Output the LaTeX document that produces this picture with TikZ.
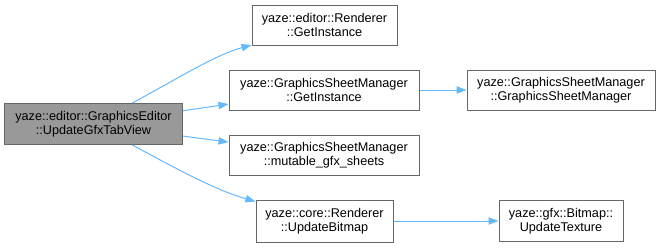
\documentclass[tikz,border=0pt]{standalone}
\usepackage{fontspec}
\setmainfont{Liberation Sans}
\usetikzlibrary{arrows.meta}
\definecolor{edgeblue}{HTML}{63B8FF}
\definecolor{boxline}{HTML}{666666}
\definecolor{boxfill}{HTML}{999999}
\begin{document}
\begin{tikzpicture}[x=0.75pt,y=-0.75pt,
  fn/.style={draw=boxline,line width=0.75pt,fill=white,inner sep=0pt,
    align=center,font=\fontsize{9.5pt}{10.6pt}\selectfont},
  cur/.style={fn,fill=boxfill},
  edge/.style={draw=edgeblue,line width=0.75pt,
    -{Triangle[length=7.5pt,width=5.5pt]}}]
\useasboundingbox (0,0) rectangle (662,247);
\node[cur,minimum width=133.5pt,minimum height=30.75pt] (main) at (93.5,124)
  {yaze::editor::GraphicsEditor\\::UpdateGfxTabView};
\node[fn,minimum width=108.75pt,minimum height=30pt] (rgi) at (324.5,25)
  {yaze::editor::Renderer\\::GetInstance};
\node[fn,minimum width=142.5pt,minimum height=30pt] (gsmgi) at (324,90)
  {yaze::GraphicsSheetManager\\::GetInstance};
\node[fn,minimum width=142.5pt,minimum height=30pt] (mut) at (324,155)
  {yaze::GraphicsSheetManager\\::mutable\_gfx\_sheets};
\node[fn,minimum width=102.75pt,minimum height=31.5pt] (ub) at (324.5,221)
  {yaze::core::Renderer\\::UpdateBitmap};
\node[fn,minimum width=141pt,minimum height=30pt] (gsm) at (561,90)
  {yaze::GraphicsSheetManager\\::GraphicsSheetManager};
\node[fn,minimum width=93pt,minimum height=30.75pt] (ut) at (561,221)
  {yaze::gfx::Bitmap::\\UpdateTexture};
\draw[edge] (main) .. controls (175,80) and (215,55) .. (rgi);
\draw[edge] (main) -- (gsmgi);
\draw[edge] (main) -- (mut);
\draw[edge] (main) .. controls (175,168) and (215,190) .. (ub);
\draw[edge] (gsmgi) -- (gsm);
\draw[edge] (ub) -- (ut);
\end{tikzpicture}
\end{document}
